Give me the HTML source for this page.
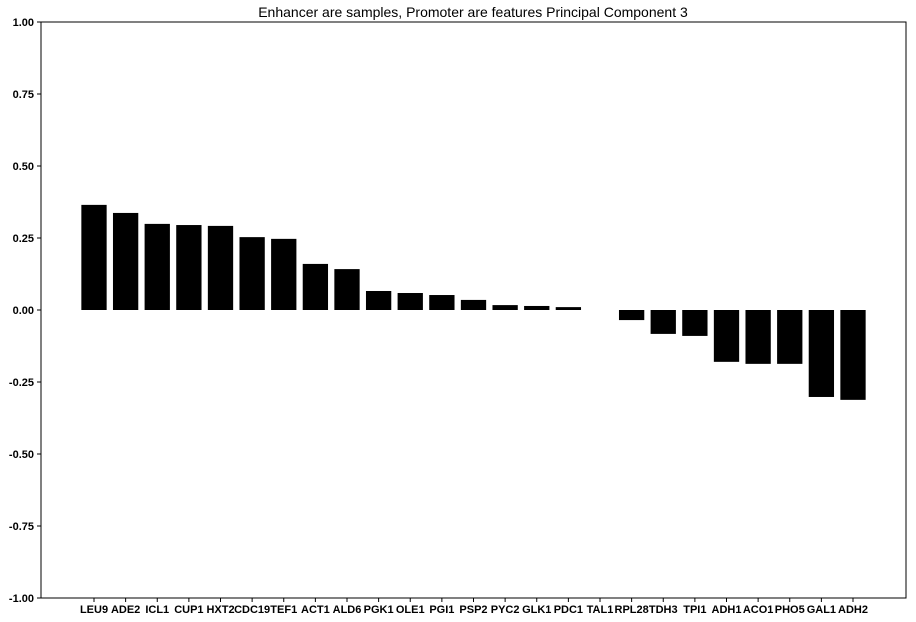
<!DOCTYPE html>
<html><head><meta charset="utf-8"><style>
body{margin:0;background:#fff;}
svg{display:block;font-family:"Liberation Sans",Arial,sans-serif;}
</style></head><body>
<svg id="chart" width="916" height="622">
<text x="473" y="17" text-anchor="middle" font-size="14">Enhancer are samples, Promoter are features Principal Component 3</text>
<g id="bars"></g><g id="yticks"></g><g id="xticks"></g>
<rect x="41" y="22" width="865" height="576" fill="none" stroke="#000" stroke-width="1"/>
</svg>
<script>
const categories=["LEU9","ADE2","ICL1","CUP1","HXT2","CDC19","TEF1","ACT1","ALD6","PGK1","OLE1","PGI1","PSP2","PYC2","GLK1","PDC1","TAL1","RPL28","TDH3","TPI1","ADH1","ACO1","PHO5","GAL1","ADH2"];
const values=[0.365,0.337,0.299,0.295,0.292,0.253,0.247,0.160,0.142,0.066,0.059,0.052,0.035,0.017,0.014,0.010,0.0,-0.035,-0.083,-0.090,-0.180,-0.187,-0.187,-0.302,-0.312];
const yTicks=[-1,-0.75,-0.5,-0.25,0,0.25,0.5,0.75,1];
const yTickLabels=["-1.00","-0.75","-0.50","-0.25","0.00","0.25","0.50","0.75","1.00"];
const NS="http://www.w3.org/2000/svg";
const L=41,R=906,T=22,B=598;
const y=v=>T+(1-v)/2*(B-T);
const x0=94,x1=853;
const x=i=>x0+i*(x1-x0)/(categories.length-1);
const bw=25.3;
const gb=document.getElementById('bars'),gy=document.getElementById('yticks'),gx=document.getElementById('xticks');
categories.forEach((c,i)=>{
  const v=values[i];
  const r=document.createElementNS(NS,'rect');
  r.setAttribute('x',x(i)-bw/2);
  r.setAttribute('y',Math.min(y(v),y(0)));
  r.setAttribute('width',bw);
  r.setAttribute('height',Math.abs(y(v)-y(0)));
  r.setAttribute('fill','#000');
  
  
  gb.appendChild(r);
  const t=document.createElementNS(NS,'text');
  t.setAttribute('x',x(i));t.setAttribute('y',B+15);
  t.setAttribute('text-anchor','middle');t.setAttribute('font-size','11');t.setAttribute('font-weight','bold');
  t.textContent=c;
  
  
  gx.appendChild(t);
  const k=document.createElementNS(NS,'line');
  k.setAttribute('x1',x(i));k.setAttribute('x2',x(i));k.setAttribute('y1',B);k.setAttribute('y2',B+4);k.setAttribute('stroke','#000');
  
  
  gx.appendChild(k);
});
yTicks.forEach((v,i)=>{
  const t=document.createElementNS(NS,'text');
  t.setAttribute('x',L-7);t.setAttribute('y',y(v)+4);
  t.setAttribute('text-anchor','end');t.setAttribute('font-size','11');t.setAttribute('font-weight','bold');
  t.textContent=yTickLabels[i];
  
  
  gy.appendChild(t);
  const k=document.createElementNS(NS,'line');
  k.setAttribute('x1',L-4);k.setAttribute('x2',L);k.setAttribute('y1',y(v));k.setAttribute('y2',y(v));k.setAttribute('stroke','#000');
  
  
  gy.appendChild(k);
});
</script>
</body></html>
